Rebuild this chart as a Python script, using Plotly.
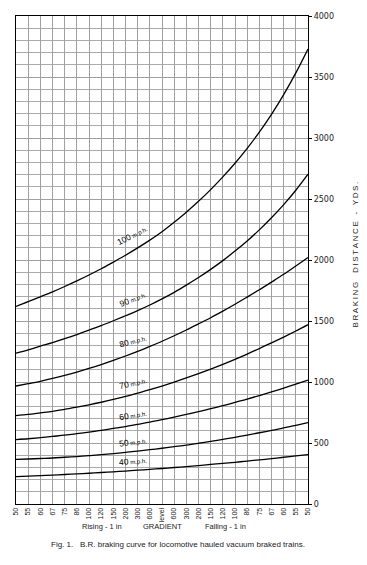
import plotly.graph_objects as go
import numpy as np

# ---- data ----
gradient_labels = ["50", "55", "60", "67", "75", "86", "100", "120", "150", "200", "300", "600",
                   "level", "600", "300", "200", "150", "120", "100", "86", "75", "67", "60", "55", "50"]
speeds = ["100", "90", "80", "70", "60", "50", "40"]

dist_100 = [1620, 1658, 1698, 1739, 1783, 1829, 1877, 1928, 1983, 2039, 2099, 2163, 2232,
            2309, 2392, 2481, 2577, 2681, 2793, 2915, 3048, 3194, 3356, 3534, 3730]
dist_90 = [1236, 1264, 1294, 1323, 1355, 1389, 1425, 1462, 1502, 1543, 1585, 1631, 1681,
           1735, 1794, 1856, 1923, 1995, 2073, 2156, 2247, 2346, 2454, 2572, 2703]
dist_80 = [967, 986, 1006, 1029, 1054, 1081, 1111, 1143, 1177, 1213, 1251, 1292, 1334,
           1379, 1426, 1476, 1527, 1581, 1637, 1696, 1756, 1819, 1883, 1951, 2020]
dist_70 = [724, 734, 747, 760, 776, 794, 813, 834, 857, 882, 909, 937, 967,
           999, 1033, 1069, 1106, 1145, 1186, 1229, 1274, 1320, 1368, 1418, 1470]
dist_60 = [528, 535, 544, 554, 564, 576, 589, 603, 619, 635, 653, 671, 691,
           712, 734, 757, 781, 806, 833, 860, 889, 919, 950, 982, 1015]
dist_50 = [366, 369, 373, 377, 383, 389, 396, 404, 413, 423, 433, 445, 457,
           470, 483, 498, 514, 530, 547, 565, 584, 603, 624, 645, 667]
dist_40 = [225, 229, 233, 237, 242, 247, 252, 258, 264, 270, 277, 284, 291,
           299, 307, 315, 324, 333, 342, 352, 362, 372, 383, 394, 405]

series = [dist_100, dist_90, dist_80, dist_70, dist_60, dist_50, dist_40]
label_angles = [-27, -22, -15, -13, -10, -7, -5]

y_ticks = [0, 500, 1000, 1500, 2000, 2500, 3000, 3500, 4000]

FONT = "Liberation Sans, Arial, sans-serif"
x = list(range(len(gradient_labels)))

fig = go.Figure()
for vals in series:
    fig.add_trace(go.Scatter(x=x, y=vals, mode="lines",
                             line=dict(color="black", width=1.3, shape="spline"),
                             showlegend=False, hoverinfo="skip"))

label_pos = 9.6
for spd, vals, ang in zip(speeds, series, label_angles):
    fig.add_annotation(x=label_pos, y=float(np.interp(label_pos, x, vals)),
                       xref="x", yref="y",
                       text=f"{spd}<span style='font-size:6px'> m.p.h.</span>",
                       showarrow=False, textangle=ang, yanchor="bottom", yshift=1,
                       font=dict(family=FONT, size=8.5, color="black"))

fig.update_xaxes(range=[0, 24], tickmode="array", tickvals=x, ticktext=gradient_labels,
                 tickangle=-90, tickfont=dict(family=FONT, size=7, color="#222"),
                 showgrid=True, gridcolor="#a0a0a0", gridwidth=0.8,
                 showline=True, linecolor="black", linewidth=1, mirror=True,
                 ticks="", zeroline=False, fixedrange=True)
fig.update_yaxes(range=[0, 4000], side="right", tickmode="array", tickvals=y_ticks,
                 tickfont=dict(family="DejaVu Sans, sans-serif", size=8, color="#222"),
                 showgrid=True, gridcolor="#a0a0a0", gridwidth=0.8,
                 minor=dict(dtick=100, showgrid=True, gridcolor="#ababab", gridwidth=0.7),
                 showline=True, linecolor="black", linewidth=1.2, mirror=True,
                 ticks="outside", ticklen=3, tickcolor="black",
                 zeroline=False, fixedrange=True)

ytitle = "\u2009".join("BRAKING") + "\u00a0\u00a0\u00a0\u00a0" + "\u2009".join("DISTANCE") \
    + "\u00a0\u00a0\u00a0-\u00a0\u00a0\u00a0" + "\u2009".join("YDS.")
fig.add_annotation(xref="paper", yref="paper", x=1.162, y=0.512, xanchor="center", yanchor="middle",
                   text=ytitle, textangle=-90, showarrow=False,
                   font=dict(family=FONT, size=8, color="#222"))
fig.add_annotation(xref="paper", yref="paper", x=0.22, y=-0.059, text="Rising - 1 in",
                   showarrow=False, font=dict(family=FONT, size=7.5, color="#222"))
fig.add_annotation(xref="paper", yref="paper", x=0.5, y=-0.059, text="GRADIENT",
                   showarrow=False, font=dict(family=FONT, size=7.5, color="#222"))
fig.add_annotation(xref="paper", yref="paper", x=0.794, y=-0.059, text="Falling - 1 in",
                   showarrow=False, font=dict(family=FONT, size=7.5, color="#222"))
fig.add_annotation(xref="paper", yref="paper", x=0.554, y=-0.0955,
                   text="Fig. 1.\u00a0\u00a0 B.R. braking curve for locomotive hauled vacuum braked trains.",
                   showarrow=False, font=dict(family=FONT, size=8, color="#222"))

fig.update_layout(width=367, height=565, margin=dict(l=12, r=59, t=12, b=61),
                  paper_bgcolor="white", plot_bgcolor="white", showlegend=False)

fig.write_html("out.html", config={"displayModeBar": False},
               post_script="document.body.style.margin='0';document.body.style.overflow='hidden';")
